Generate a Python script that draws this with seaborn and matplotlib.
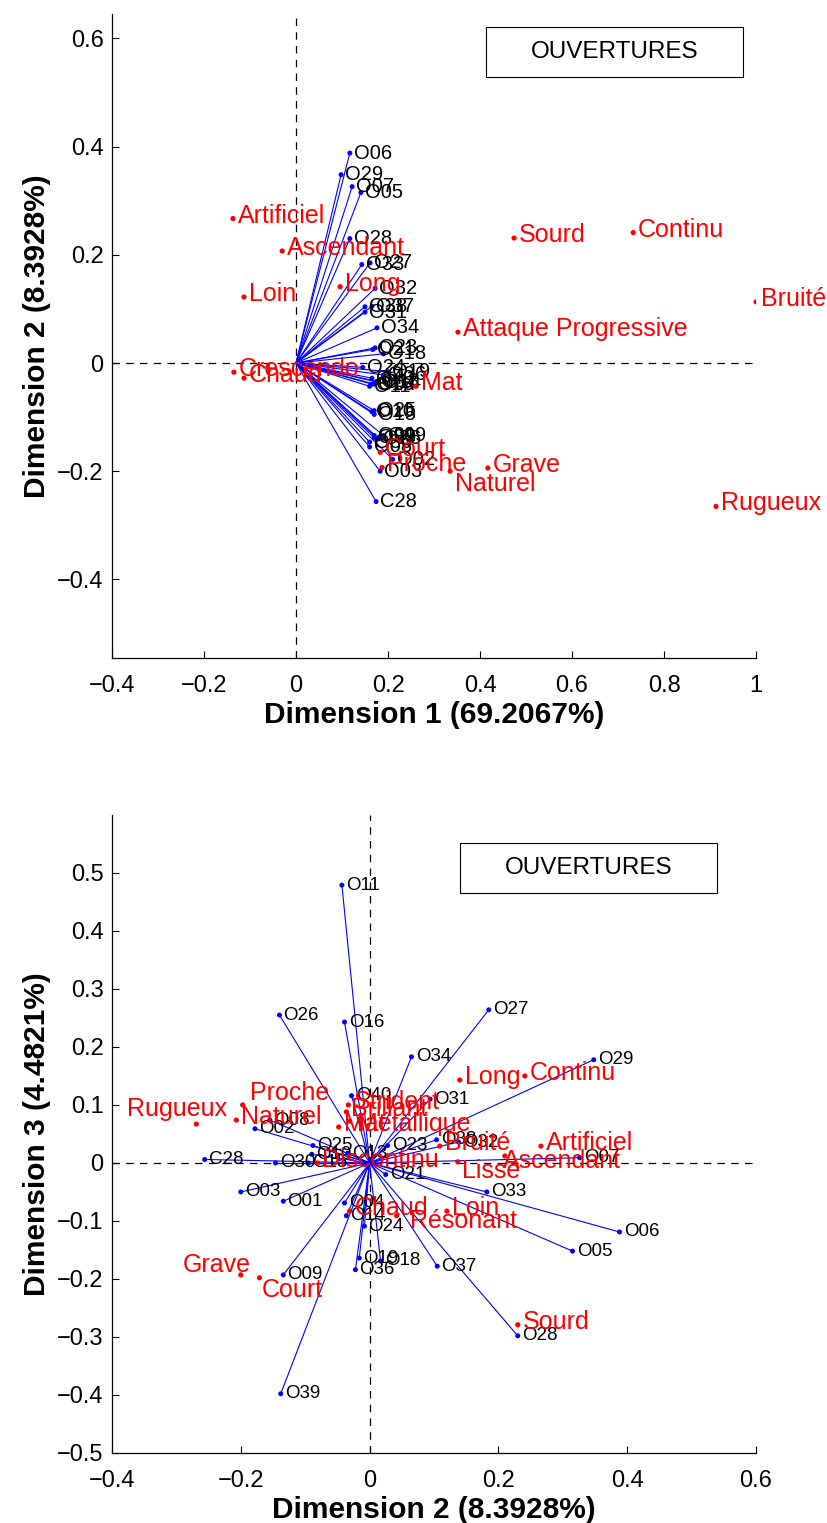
import matplotlib
matplotlib.use("Agg")
import matplotlib.pyplot as plt
from matplotlib.patches import Rectangle
import seaborn as sns
import pandas as pd

# observations (ouvertures): coordinates on the first three dimensions
obs_labels = ["O01", "O02", "O03", "O04", "O05", "O06", "O07", "O08", "O09", "O10",
              "O11", "O13", "O14", "O15", "O16", "O18", "O19", "O21", "O23", "O24",
              "O25", "O26", "O27", "O28", "O29", "O30", "O31", "O32", "O33", "O34",
              "O36", "O37", "O38", "O39", "O40", "C28"]
obs_dim1 = [0.170, 0.210, 0.183, 0.170, 0.141, 0.117, 0.122, 0.160, 0.190, 0.165,
            0.160, 0.175, 0.180, 0.170, 0.165, 0.190, 0.200, 0.167, 0.172, 0.145,
            0.170, 0.180, 0.161, 0.117, 0.098, 0.160, 0.150, 0.172, 0.143, 0.176,
            0.190, 0.165, 0.150, 0.170, 0.165, 0.174]
obs_dim2 = [-0.134, -0.178, -0.200, -0.039, 0.315, 0.388, 0.326, -0.155, -0.134, -0.090,
            -0.043, -0.034, -0.036, -0.095, -0.039, 0.017, -0.016, 0.025, 0.028, -0.008,
            -0.088, -0.140, 0.185, 0.230, 0.348, -0.146, 0.094, 0.138, 0.182, 0.065,
            -0.022, 0.105, 0.104, -0.138, -0.028, -0.256]
obs_dim3 = [-0.066, 0.059, -0.050, -0.069, -0.152, -0.119, 0.009, 0.074, -0.193, 0.015,
            0.479, 0.017, -0.091, 0.000, 0.243, -0.169, -0.164, -0.020, 0.030, -0.109,
            0.030, 0.255, 0.264, -0.298, 0.178, 0.000, 0.110, 0.036, -0.050, 0.183,
            -0.184, -0.178, 0.040, -0.398, 0.116, 0.006]

# descriptors shown on the dim1/dim2 map
var_top_labels = ["Artificiel", "Ascendant", "Long", "Loin", "Sourd", "Continu", "Bruité",
                  "Attaque Progressive", "Crescendo", "Chaud", "Mat", "Court", "Proche",
                  "Grave", "Naturel", "Rugueux"]
var_top_dim1 = [-0.137, -0.030, 0.096, -0.113, 0.474, 0.733, 1.000, 0.352, -0.135, -0.113,
                0.260, 0.183, 0.187, 0.417, 0.335, 0.913]
var_top_dim2 = [0.267, 0.207, 0.141, 0.122, 0.231, 0.241, 0.113, 0.057, -0.017, -0.028,
                -0.043, -0.165, -0.193, -0.194, -0.200, -0.265]

# descriptors shown on the dim2/dim3 map
var_bot_labels = ["Rugueux", "Proche", "Naturel", "Grave", "Court", "Long", "Continu",
                  "Artificiel", "Ascendant", "Lisse", "Bruité", "Sourd", "Loin", "Résonant",
                  "Chaud", "Discontinu", "Strident", "Brillant", "Mat", "Métallique"]
var_bot_dim2 = [-0.269, -0.197, -0.207, -0.200, -0.171, 0.140, 0.241, 0.266, 0.210, 0.137,
                0.109, 0.230, 0.120, 0.042, -0.031, -0.081, -0.033, -0.036, -0.048, -0.031]
var_bot_dim3 = [0.067, 0.100, 0.074, -0.193, -0.198, 0.143, 0.150, 0.029, 0.012, 0.002,
                0.029, -0.279, -0.083, -0.091, -0.083, 0.000, 0.100, 0.088, 0.062, 0.072]

top_xticks = [-0.4, -0.2, 0, 0.2, 0.4, 0.6, 0.8, 1]
top_xticklabels = ["\u22120.4", "\u22120.2", "0", "0.2", "0.4", "0.6", "0.8", "1"]
top_yticks = [-0.4, -0.2, 0, 0.2, 0.4, 0.6]
top_yticklabels = ["\u22120.4", "\u22120.2", "0", "0.2", "0.4", "0.6"]
bot_xticks = [-0.4, -0.2, 0, 0.2, 0.4, 0.6]
bot_xticklabels = ["\u22120.4", "\u22120.2", "0", "0.2", "0.4", "0.6"]
bot_yticks = [-0.5, -0.4, -0.3, -0.2, -0.1, 0, 0.1, 0.2, 0.3, 0.4, 0.5]
bot_yticklabels = ["\u22120.5", "\u22120.4", "\u22120.3", "\u22120.2", "\u22120.1", "0",
                   "0.1", "0.2", "0.3", "0.4", "0.5"]

sns.set_style("ticks")
plt.rcParams["font.family"] = ["Liberation Sans", "DejaVu Sans"]
plt.rcParams["xtick.direction"] = "in"
plt.rcParams["ytick.direction"] = "in"
for k in ["text.color", "axes.labelcolor", "xtick.color", "ytick.color", "axes.edgecolor"]:
    plt.rcParams[k] = "black"

obs = pd.DataFrame({"label": obs_labels, "d1": obs_dim1, "d2": obs_dim2, "d3": obs_dim3})
vtop = pd.DataFrame({"label": var_top_labels, "x": var_top_dim1, "y": var_top_dim2})
vbot = pd.DataFrame({"label": var_bot_labels, "x": var_bot_dim2, "y": var_bot_dim3})

# label nudges in pixels (dx, dy) for labels moved by hand in the original
top_nudge = {"Naturel": (5, -13)}
bot_nudge = {"Rugueux": (-69, 15), "Grave": (-58, 10), "Court": (2, -12),
             "Ascendant": (-2, -5), "Lisse": (4, -9), "Résonant": (13, -5),
             "Proche": (7, 12), "Métallique": (7, -3)}

fig = plt.figure(figsize=(8.27, 15.23), dpi=100)
ax1 = fig.add_axes([0.1354, 0.5680, 0.7788, 0.4228])
ax2 = fig.add_axes([0.1354, 0.0460, 0.7788, 0.4189])


def biplot(ax, xcol, ycol, vars_df, nudge, obs_fs, var_fs):
    ax.axhline(0, color="black", ls=(0, (6, 5)), lw=0.9, zorder=1)
    ax.axvline(0, color="black", ls=(0, (6, 5)), lw=0.9, zorder=1)
    for _, r in obs.iterrows():
        ax.plot([0, r[xcol]], [0, r[ycol]], color="blue", lw=0.8, zorder=2)
    sns.scatterplot(data=obs, x=xcol, y=ycol, ax=ax, color="blue", s=13,
                    edgecolor="none", zorder=3, legend=False)
    for _, r in obs.iterrows():
        ax.annotate(r["label"], (r[xcol], r[ycol]), xytext=(3, 0), textcoords="offset points",
                    ha="left", va="center", fontsize=obs_fs, color="black", zorder=4)
    sns.scatterplot(data=vars_df, x="x", y="y", ax=ax, color="red", s=14,
                    edgecolor="none", zorder=5, legend=False)
    for _, r in vars_df.iterrows():
        dx, dy = nudge.get(r["label"], (5, 3))
        ax.annotate(r["label"], (r["x"], r["y"]), xytext=(dx * 0.72, dy * 0.72),
                    textcoords="offset points", ha="left", va="center",
                    fontsize=var_fs, color="red", zorder=6)
    sns.despine(ax=ax)
    ax.spines["left"].set_linewidth(0.9)
    ax.spines["bottom"].set_linewidth(0.9)
    ax.tick_params(labelsize=17, length=5, width=0.8)
    ax.tick_params(axis="x", pad=12)
    ax.tick_params(axis="y", pad=6)


biplot(ax1, "d1", "d2", vtop, top_nudge, 14.5, 18)
ax1.set_xlim(-0.4, 1)
ax1.set_ylim(-0.545, 0.645)
ax1.set_xticks(top_xticks)
ax1.set_xticklabels(top_xticklabels)
ax1.set_yticks(top_yticks)
ax1.set_yticklabels(top_yticklabels)
ax1.set_xlabel("Dimension 1 (69.2067%)", fontsize=21.5, fontweight="bold", labelpad=3)
ax1.set_ylabel("Dimension 2 (8.3928%)", fontsize=21.5, fontweight="bold", labelpad=4.5)
ax1.add_patch(Rectangle((0.581, 0.902), 0.399, 0.078, transform=ax1.transAxes,
                        facecolor="white", edgecolor="black", lw=0.8, zorder=7))
ax1.text(0.7805, 0.941, "OUVERTURES", transform=ax1.transAxes, ha="center",
         va="center", fontsize=17.5, zorder=8)

biplot(ax2, "d2", "d3", vbot, bot_nudge, 13.5, 18)
ax2.set_xlim(-0.4, 0.6)
ax2.set_ylim(-0.5, 0.6)
ax2.set_xticks(bot_xticks)
ax2.set_xticklabels(bot_xticklabels)
ax2.set_yticks(bot_yticks)
ax2.set_yticklabels(bot_yticklabels)
ax2.set_xlabel("Dimension 2 (8.3928%)", fontsize=21.5, fontweight="bold", labelpad=3)
ax2.set_ylabel("Dimension 3 (4.4821%)", fontsize=21.5, fontweight="bold", labelpad=4.5)
ax2.add_patch(Rectangle((0.540, 0.877), 0.399, 0.079, transform=ax2.transAxes,
                        facecolor="white", edgecolor="black", lw=0.8, zorder=7))
ax2.text(0.7395, 0.9165, "OUVERTURES", transform=ax2.transAxes, ha="center",
         va="center", fontsize=17.5, zorder=8)

fig.savefig("out.png", dpi=100)
